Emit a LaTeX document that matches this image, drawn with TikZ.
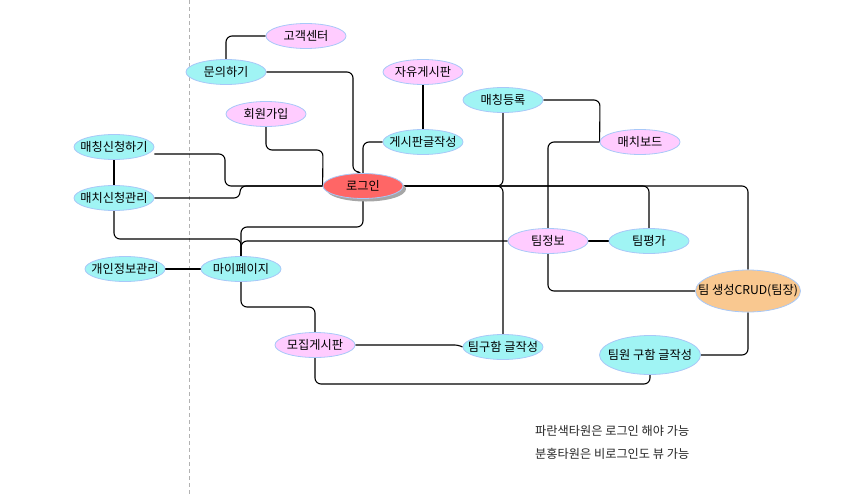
\documentclass[tikz,border=0pt]{standalone}
\usepackage{fontspec}
\setmainfont{Noto Sans CJK KR}
\usetikzlibrary{shapes.geometric,shadows,backgrounds}
\definecolor{cy}{HTML}{A0F4F4}
\definecolor{pk}{HTML}{FFCCFF}
\definecolor{bord}{HTML}{A8C8F8}
\definecolor{lg}{HTML}{FF6666}
\definecolor{orng}{HTML}{F9C890}
\newcommand\ztxt[1]{\makebox[0pt]{#1}}
\begin{document}
\begin{tikzpicture}[x=1pt,y=-1pt,font=\fontsize{12.2}{14}\selectfont,
  oval/.style={ellipse,draw=bord,line width=0.8pt,minimum width=80pt,minimum height=25pt,inner sep=0pt},
  conn/.style={draw=black,line width=1.1pt,rounded corners=6pt},
  legend/.style={anchor=west,inner sep=0pt,text=black!85}]
\useasboundingbox (0,0) rectangle (852,496);
\node[oval,fill=pk] (gogaek) at (306,36) {\ztxt{고객센터}};
\node[oval,fill=cy] (munui) at (226,72) {\ztxt{문의하기}};
\node[oval,fill=pk] (jayu) at (423,72) {\ztxt{자유게시판}};
\node[oval,fill=pk] (hoewon) at (266,114) {\ztxt{회원가입}};
\node[oval,fill=cy] (gesi) at (423,142) {\ztxt{게시판글작성}};
\node[oval,fill=cy] (mreg) at (503,100) {\ztxt{매칭등록}};
\node[oval,fill=pk] (mboard) at (640,142) {\ztxt{매치보드}};
\node[oval,fill=cy] (mapply) at (114,147) {\ztxt{매칭신청하기}};
\node[oval,fill=cy] (mmanage) at (114,198) {\ztxt{매치신청관리}};
\node[oval,fill=lg,drop shadow={shadow xshift=3pt,shadow yshift=-3pt,fill=gray!70,opacity=1}] (login) at (363,186) {\ztxt{로그인}};
\node[oval,fill=pk] (tinfo) at (548,241) {\ztxt{팀정보}};
\node[oval,fill=cy] (teval) at (649,241) {\ztxt{팀평가}};
\node[oval,fill=cy] (pinfo) at (125,269) {\ztxt{개인정보관리}};
\node[oval,fill=cy] (mypage) at (241,269) {\ztxt{마이페이지}};
\node[oval,fill=orng,minimum width=105pt,minimum height=42pt] (tcrud) at (748,291) {\ztxt{팀 생성CRUD(팀장)}};
\node[oval,fill=pk] (mojip) at (315,345) {\ztxt{모집게시판}};
\node[oval,fill=cy] (tfind) at (503,347) {\ztxt{팀구함 글작성}};
\node[oval,fill=cy,minimum width=101pt,minimum height=39pt] (mfind) at (650,355) {\ztxt{팀원 구함 글작성}};
\node[legend] (leg1) at (535,431) {파란색타원은 로그인 해야 가능};
\node[legend] (leg2) at (535,454) {분홍타원은 비로그인도 뷰 가능};
\begin{pgfonlayer}{background}
\draw[gray!60,line width=0.8pt,dash pattern=on 4pt off 3pt] (189,0) -- (189,496);
\draw[conn] (gogaek.west) -| (munui.north);
\draw[conn] (munui.east) -- (353,72) -- (353,172) -- (363,172) -- (login.north);
\draw[conn] (jayu.south) -- (gesi.north);
\draw[conn] (gesi.west) -| (login.north);
\draw[conn] (hoewon.south) -- (266,150) -- (323,150) -- (login.west);
\draw[conn] ([yshift=-7pt]mapply.east) -- (225,154) -- (225,186) -- (login.west);
\draw[conn] (mmanage.east) -- (240,198) -- (240,186) -- (login.west);
\draw[conn] (mapply.south) -- (mmanage.north);
\draw[conn] (mmanage.south) -- (114,239) -- (241,239) -- (mypage.north);
\draw[conn] (login.south) -- (363,227) -- (241,227) -- (mypage.north);
\draw[conn] (tinfo.west) -- (241,241) -- (mypage.north);
\draw[conn] (pinfo.east) -- (mypage.west);
\draw[conn] (mypage.south) -- (241,307) -- (315,307) -- (mojip.north);
\draw[conn,rounded corners=3pt] (mojip.east) -- (458,345) -- (tfind.west);
\draw[conn] (mojip.south) -- (315,384) -- (650,384) -- (mfind.south);
\draw[conn] (login.east) -- (748,186) -- (tcrud.north);
\draw[conn] (mreg.south) -- (503,186) -- (login.east);
\draw[conn] (login.east) -- (503,186) -- (tfind.north);
\draw[conn] (mreg.east) -- (600,100) -- (mboard.west);
\draw[conn] (mboard.west) -| (tinfo.north);
\draw[conn] (tinfo.south) |- (tcrud.west);
\draw[conn] (tinfo.east) -- (teval.west);
\draw[conn] (login.east) -| (teval.north);
\draw[conn] (tcrud.south) |- (mfind.east);
\end{pgfonlayer}
\end{tikzpicture}
\end{document}
